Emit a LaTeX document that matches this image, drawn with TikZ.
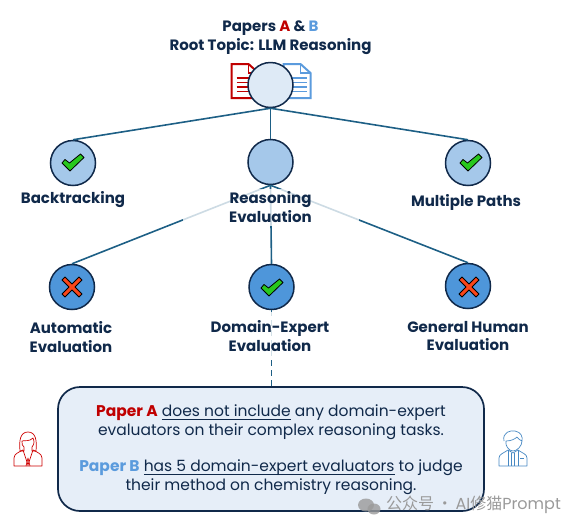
\documentclass[tikz,border=0pt]{standalone}
\usepackage{fontspec}
\setmainfont{Poppins}
\newfontfamily\cjk{Noto Sans CJK SC}
\usetikzlibrary{positioning,calc}
\definecolor{ink}{HTML}{10294A}
\definecolor{edge}{HTML}{1D5F85}
\definecolor{pale}{HTML}{DEEAF6}
\definecolor{mid}{HTML}{A5C8EA}
\definecolor{deep}{HTML}{4E96DA}
\definecolor{boxfill}{HTML}{E6EEF8}
\definecolor{redA}{HTML}{C00000}
\definecolor{blueB}{HTML}{5B9BDD}
\definecolor{wm}{HTML}{9A9A9A}
\newcommand{\ulin}[1]{\setbox0\hbox{#1}\rlap{\vrule height -2.4pt depth 3.3pt width\wd0}\box0\relax}
\newcommand{\docicon}[2]{% position, colour
  \begin{scope}[shift={(#1)},draw=#2,line width=2pt]
    \draw[fill=white] (0,0) -- (17,0) -- (27,9) -- (27,34) -- (0,34) -- cycle;
    \draw[line width=1.4pt] (17,0) -- (17,9) -- (27,9);
    \foreach \y in {14,18.5,23,27.5} \draw[line width=1.3pt] (5,\y) -- (23,\y);
  \end{scope}}
\newcommand{\checkmk}[1]{% centre
  \draw[shift={(#1)},fill={rgb,255:red,40;green,200;blue,30},draw=black,line width=.8pt,line join=round]
    (-11,0) -- (-8,-3.5) -- (-3.5,0) -- (7.5,-9) -- (11,-5.5) -- (-3,8) -- cycle;}
\newcommand{\crossmk}[1]{% centre
  \draw[shift={(#1)},fill={rgb,255:red,250;green,70;blue,25},draw=black,line width=.8pt,line join=round]
    (-10,-7) -- (-7,-10) -- (0,-3) -- (7,-10) -- (10,-7) -- (3,0) -- (10,7) -- (7,10) -- (0,3) -- (-7,10) -- (-10,7) -- (-3,0) -- cycle;}
\begin{document}
\begin{tikzpicture}[x=1pt,y=-1pt,font=\fontsize{15}{18.8}\selectfont\bfseries,text=ink,
  c/.style={circle,draw=ink,line width=1.5pt,minimum size=45pt,inner sep=0pt},
  l/.style={align=center,inner sep=0pt},
  e/.style={draw=edge,line width=1.6pt}]
  \useasboundingbox (0,0) rectangle (578,528);
  \docicon{231.5,64}{redA}
  \docicon{283.5,64}{blueB}
  \node[c,fill=pale] (root) at (270.5,85) {};
  \node[c,fill=mid] (bt) at (73,163) {};
  \node[c,fill=mid] (re) at (270.5,162) {};
  \node[c,fill=mid] (mp) at (468,163) {};
  \node[c,fill=deep] (auto) at (72,287) {};
  \node[c,fill=deep] (dom) at (271.5,287) {};
  \node[c,fill=deep] (gen) at (468,286) {};
  \node[draw=ink,line width=1.7pt,fill=boxfill,rounded corners=22pt,minimum width=426pt,minimum height=124pt,inner sep=0pt] (note) at (271,449) {};
  % edges
  \draw[e] (root.south) -- (bt.north);
  \draw[e] (root.south) -- (re.north);
  \draw[e] (root.south) -- (mp.north);
  \draw[e] (re.south) -- (auto.north);
  \draw[e] (re.south) -- (dom.north);
  \draw[e] (re.south) -- (gen.north);
  \draw[e,dash pattern=on 6pt off 4pt] (dom.south) -- (dom.south|-note.north);
  % labels
  \node[l] (title) at (270.5,38) {Papers {\color{redA}A} \& {\color{blueB}B}\\Root Topic: LLM Reasoning};
  \node[l] (btl) at (73,200) {Backtracking};
  \node[l,fill=white,fill opacity=.78,text opacity=1,minimum width=176pt,minimum height=37pt] (rel) at (270.5,207) {Reasoning\\Evaluation};
  \node[l] (mpl) at (466,202) {Multiple Paths};
  \node[l] (autol) at (71,337) {Automatic\\Evaluation};
  \node[l,fill=white,fill opacity=.8,text opacity=1,minimum width=122pt,minimum height=48pt] (doml) at (270,336) {Domain-Expert\\Evaluation};
  \node[l] (genl) at (468,336) {General Human\\Evaluation};
  \node[align=center,inner sep=0pt,font=\fontsize{15.5}{19}\selectfont\mdseries] (notet) at (271,449.5) {%
    {\bfseries\color{redA}Paper A} \ulin{does not include} any domain-expert\\
    evaluators on their complex reasoning tasks.\\[17pt]
    {\bfseries\color{blueB}Paper B} \ulin{has 5 domain-expert evaluators} to judge\\
    their method on chemistry reasoning.};
  % marks
  \checkmk{73,163}
  \checkmk{471,163}
  \checkmk{272,288}
  \crossmk{72,287}
  \crossmk{469,287}
  % people
  \begin{scope}[shift={(28,449)},draw=redA!80!red,line width=.7pt,line join=round]
    \draw (-14,17) -- (-14,9) .. controls (-14,5) and (-9,3) .. (-5,1) -- (0,16) -- (5,1) .. controls (9,3) and (14,5) .. (14,9) -- (14,17) -- cycle;
    \draw (-2,17) -- (0,9) -- (2,17);
    \draw (-8,2) .. controls (-9,-8) and (-8,-17) .. (0,-17) .. controls (8,-17) and (9,-8) .. (8,2) -- (4,2) -- (4,-2) .. controls (7,-5) and (6,-9) .. (5,-11) .. controls (1,-7) and (-3,-9) .. (-6,-8) .. controls (-6,-5) and (-6,-3) .. (-4,-2) -- (-4,2) -- cycle;
  \end{scope}
  \begin{scope}[shift={(513,449)},draw=blueB!70!edge,line width=.7pt,line join=round]
    \draw (-14,17) -- (-14,9) .. controls (-14,5) and (-9,4) .. (-5,1) -- (0,4) -- (5,1) .. controls (9,4) and (14,5) .. (14,9) -- (14,17) -- cycle;
    \draw (-5,1) -- (-5,17) (5,1) -- (5,17) (-1.5,4) -- (-1.5,17) (1.5,4) -- (1.5,17);
    \draw (7,9) -- (11,9);
    \draw (-9,-8) .. controls (-11,-17) and (-2,-19) .. (2,-18) .. controls (8,-17) and (10,-12) .. (9,-8) .. controls (9,-3) and (4,2) .. (0,2) .. controls (-4,2) and (-8,-3) .. (-7,-8) .. controls (-2,-8) and (2,-10) .. (4,-12) .. controls (5,-10) and (7,-9) .. (9,-8);
  \end{scope}
  % watermark
  \fill[wm,opacity=.8] (366,505) ellipse (8pt and 6.5pt);
  \fill[wm,opacity=.8] (374,509) ellipse (6.5pt and 5.5pt);
  \node[anchor=west,inner sep=0pt,text=wm,font=\fontsize{16}{18}\selectfont\mdseries] (wmark) at (386,505) {{\cjk 公众号\,·\,}AI{\cjk 修猫}Prompt};
\end{tikzpicture}
\end{document}
